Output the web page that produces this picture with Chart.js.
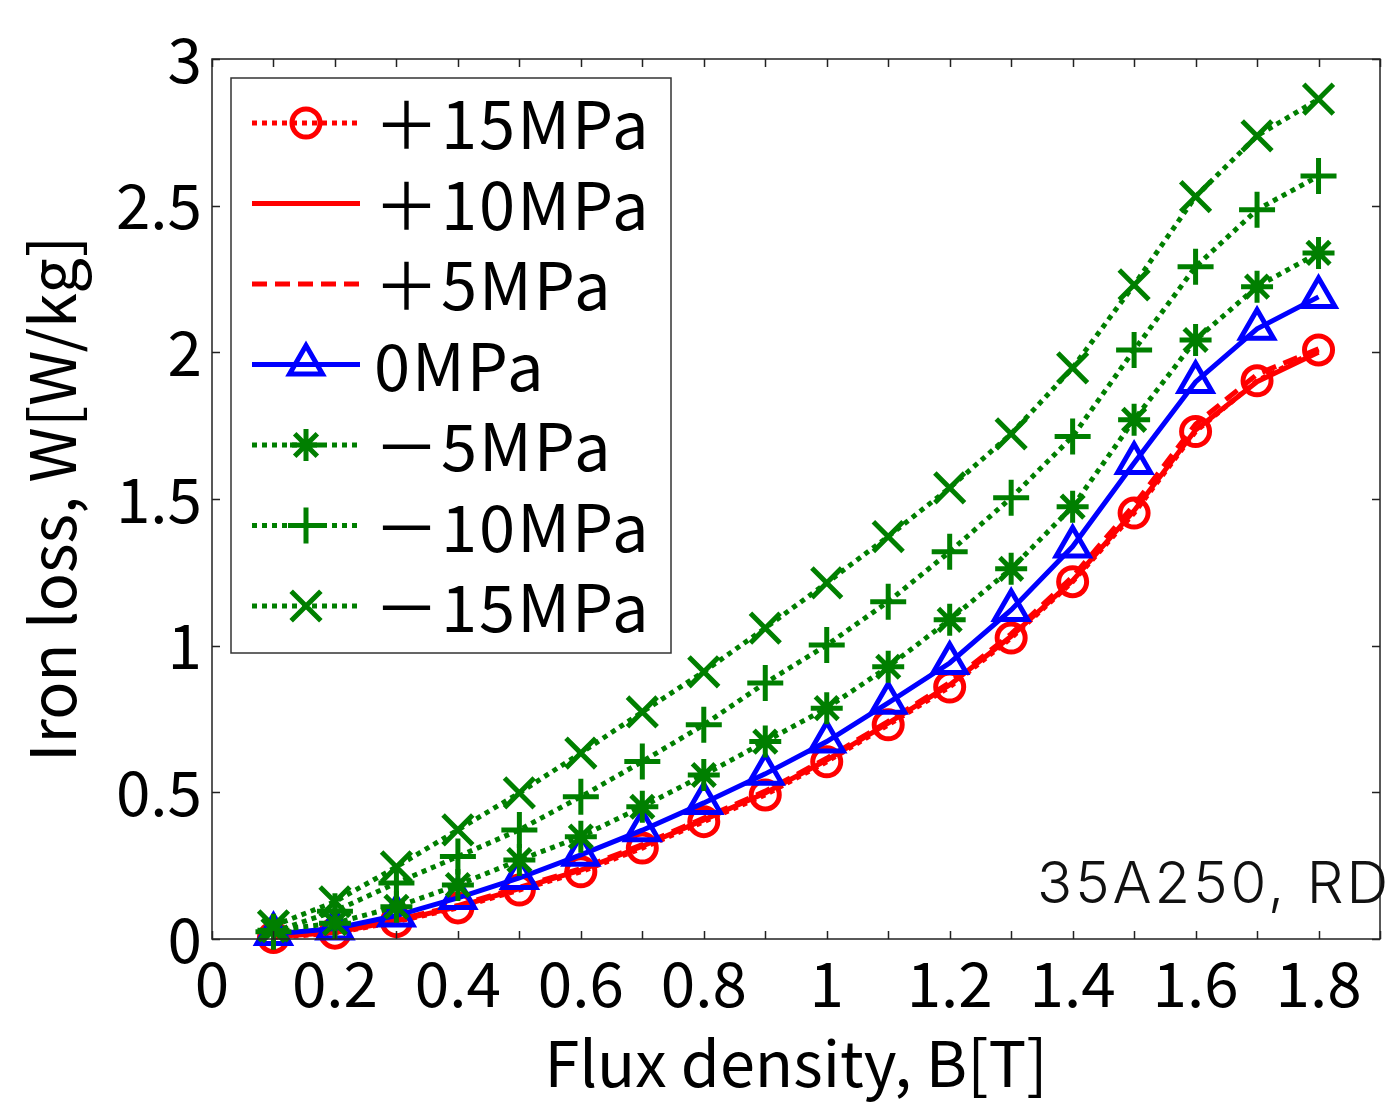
<!DOCTYPE html>
<html>
<head>
<meta charset="utf-8">
<script src="https://cdn.jsdelivr.net/npm/chart.js@4.4.1/dist/chart.umd.min.js"></script>
<style>
  html, body { margin: 0; padding: 0; background: #fff; }
  canvas { display: block; }
</style>
</head>
<body>
<canvas id="loss-chart" width="1388" height="1107"></canvas>
<script>
// Flux density B [T]
const B_FIELD = [0.1, 0.2, 0.3, 0.4, 0.5, 0.6, 0.7, 0.8, 0.9, 1.0, 1.1, 1.2, 1.3, 1.4, 1.5, 1.6, 1.7, 1.8];

// Iron loss W [W/kg] per stress level
const LOSS_P15 = [0.005, 0.02, 0.059, 0.106, 0.167, 0.229, 0.31, 0.40, 0.491, 0.604, 0.73, 0.859, 1.026, 1.218, 1.452, 1.73, 1.903, 2.008];
const LOSS_P10 = [0.008, 0.022, 0.062, 0.11, 0.172, 0.235, 0.316, 0.406, 0.498, 0.61, 0.736, 0.866, 1.032, 1.222, 1.46, 1.735, 1.9, 2.0];
const LOSS_P5  = [0.01, 0.025, 0.066, 0.114, 0.176, 0.24, 0.322, 0.412, 0.504, 0.616, 0.742, 0.874, 1.04, 1.235, 1.48, 1.755, 1.925, 2.012];
const LOSS_0   = [0.017, 0.036, 0.08, 0.14, 0.208, 0.287, 0.371, 0.464, 0.563, 0.673, 0.805, 0.941, 1.122, 1.338, 1.623, 1.899, 2.08, 2.189];
const LOSS_M5  = [0.03, 0.054, 0.11, 0.184, 0.269, 0.349, 0.451, 0.559, 0.673, 0.787, 0.928, 1.088, 1.262, 1.474, 1.77, 2.042, 2.224, 2.339];
const LOSS_M10 = [0.025, 0.095, 0.191, 0.281, 0.372, 0.485, 0.605, 0.73, 0.873, 1.002, 1.15, 1.32, 1.504, 1.713, 2.008, 2.292, 2.486, 2.601];
const LOSS_M15 = [0.045, 0.127, 0.246, 0.372, 0.498, 0.634, 0.774, 0.911, 1.06, 1.214, 1.372, 1.538, 1.722, 1.947, 2.23, 2.531, 2.738, 2.863];

const SERIES_LABELS = ['＋15MPa', '＋10MPa', '＋5MPa', '0MPa', '－5MPa', '－10MPa', '－15MPa'];
const X_TICK_LABELS = ['0', '0.2', '0.4', '0.6', '0.8', '1', '1.2', '1.4', '1.6', '1.8'];
const Y_TICK_LABELS = ['0', '0.5', '1', '1.5', '2', '2.5', '3'];
const NOTE_TEXT = '35A250, RD';

const RED = '#ff0000';
const BLUE = '#0000ff';
const GREEN = '#007f00';
const DOTTED = [5, 5];
const DASHED = [15, 8];
const FONT = '"Noto Sans CJK JP", "Noto Sans", sans-serif';

function series(label, values, color, dash, marker, radius) {
    return {
        label: label,
        data: values.map((v, i) => ({ x: B_FIELD[i], y: v })),
        borderColor: color,
        backgroundColor: 'rgba(0,0,0,0)',
        borderWidth: 5,
        borderDash: dash,
        pointStyle: marker,
        pointRadius: radius,
        pointBorderWidth: 5,
        pointBorderColor: color,
        pointBackgroundColor: 'rgba(0,0,0,0)',
        tension: 0,
        clip: false
    };
}

const datasets = [
    series(SERIES_LABELS[0], LOSS_P15, RED, DOTTED, 'circle', 14),
    series(SERIES_LABELS[1], LOSS_P10, RED, [], false, 0),
    series(SERIES_LABELS[2], LOSS_P5, RED, DASHED, false, 0),
    series(SERIES_LABELS[3], LOSS_0, BLUE, [], 'triangle', 19),
    series(SERIES_LABELS[4], LOSS_M5, GREEN, DOTTED, 'star', 16),
    series(SERIES_LABELS[5], LOSS_M10, GREEN, DOTTED, 'cross', 18),
    series(SERIES_LABELS[6], LOSS_M15, GREEN, DOTTED, 'crossRot', 21)
];
// later series lie on top, as in the original plot
datasets.forEach((ds, i) => { ds.order = datasets.length - i; });

// frame + inward tick marks on all four sides
const frameTicks = {
    id: 'frameTicks',
    afterDraw(chart) {
        const { ctx, chartArea: a, scales } = chart;
        ctx.save();
        ctx.strokeStyle = '#222';
        ctx.lineWidth = 1.5;
        ctx.setLineDash([]);
        ctx.strokeRect(a.left, a.top, a.right - a.left, a.bottom - a.top);
        const len = 8;
        ctx.beginPath();
        scales.x.ticks.forEach(t => {
            const px = Math.round(scales.x.getPixelForValue(t.value)) + 0.5;
            ctx.moveTo(px, a.bottom); ctx.lineTo(px, a.bottom - len);
            ctx.moveTo(px, a.top); ctx.lineTo(px, a.top + len);
        });
        scales.y.ticks.forEach(t => {
            const py = Math.round(scales.y.getPixelForValue(t.value)) + 0.5;
            ctx.moveTo(a.left, py); ctx.lineTo(a.left + len, py);
            ctx.moveTo(a.right, py); ctx.lineTo(a.right - len, py);
        });
        ctx.stroke();
        ctx.restore();
    }
};

// boxed legend in the upper-left of the plot
const boxLegend = {
    id: 'boxLegend',
    afterDraw(chart) {
        const { ctx, chartArea: a } = chart;
        const left = a.left + 19, top = a.top + 19, w = 440, h = 575;
        ctx.save();
        ctx.fillStyle = '#fff';
        ctx.fillRect(left, top, w, h);
        ctx.strokeStyle = '#333';
        ctx.lineWidth = 1.5;
        ctx.strokeRect(left, top, w, h);
        chart.data.datasets.forEach((ds, i) => {
            const y = top + 45 + i * 80.5;
            ctx.strokeStyle = ds.borderColor;
            ctx.lineWidth = ds.borderWidth;
            ctx.setLineDash(ds.borderDash || []);
            ctx.beginPath();
            ctx.moveTo(left + 21, y);
            ctx.lineTo(left + 129, y);
            ctx.stroke();
            ctx.setLineDash([]);
            if (ds.pointStyle) {
                ctx.fillStyle = 'rgba(0,0,0,0)';
                Chart.helpers.drawPoint(ctx, {
                    pointStyle: ds.pointStyle,
                    radius: ds.pointRadius,
                    borderWidth: ds.pointBorderWidth,
                    rotation: 0
                }, left + 75, y);
            }
            ctx.fillStyle = '#000';
            ctx.font = '65px ' + FONT;
            ctx.letterSpacing = '2px';
            ctx.textAlign = 'left';
            ctx.textBaseline = 'alphabetic';
            ctx.fillText(ds.label, left + 143, y + 26);
        });
        ctx.restore();
    }
};

// sample note in the lower-right corner
const noteText = {
    id: 'noteText',
    afterDraw(chart) {
        const { ctx, chartArea: a } = chart;
        ctx.save();
        ctx.fillStyle = '#111';
        ctx.font = '300 58px Inter, "Liberation Sans", sans-serif';
        ctx.letterSpacing = '3px';
        ctx.textAlign = 'left';
        ctx.textBaseline = 'alphabetic';
        ctx.fillText(NOTE_TEXT, a.right - 343, a.bottom - 36);
        ctx.restore();
    }
};

function tickLabel(list, value) {
    const hit = list.find(s => Math.abs(Number(s) - value) < 1e-6);
    return hit === undefined ? '' : hit;
}

new Chart(document.getElementById('loss-chart'), {
    type: 'line',
    data: { datasets: datasets },
    options: {
        responsive: false,
        animation: false,
        devicePixelRatio: 1,
        layout: {
            autoPadding: false,
            padding: { top: 59, right: 8, left: 0, bottom: 0 }
        },
        plugins: {
            legend: { display: false },
            tooltip: { enabled: false }
        },
        scales: {
            x: {
                type: 'linear',
                min: 0,
                max: 1.9,
                afterFit(scale) {
                    scale.height = 168;
                    scale.paddingLeft = 0;
                    scale.paddingRight = 0;
                },
                afterBuildTicks(scale) {
                    const ticks = [];
                    for (let i = 0; i <= 19; i++) ticks.push({ value: i / 10 });
                    scale.ticks = ticks;
                },
                grid: { display: false, drawTicks: false },
                border: { display: false },
                ticks: {
                    autoSkip: false,
                    maxRotation: 0,
                    padding: 7,
                    color: '#000',
                    font: { family: FONT, size: 62 },
                    callback: (value) => tickLabel(X_TICK_LABELS, value)
                },
                title: {
                    display: true,
                    text: 'Flux density, B[T]',
                    color: '#000',
                    font: { family: FONT, size: 63 },
                    padding: { top: 0, bottom: 6 }
                }
            },
            y: {
                type: 'linear',
                min: 0,
                max: 3,
                afterFit(scale) {
                    scale.width = 212;
                    scale.paddingTop = 0;
                    scale.paddingBottom = 0;
                },
                afterBuildTicks(scale) {
                    scale.ticks = Y_TICK_LABELS.map(s => ({ value: Number(s) }));
                },
                grid: { display: false, drawTicks: false },
                border: { display: false },
                ticks: {
                    padding: 10,
                    color: '#000',
                    font: { family: FONT, size: 62 },
                    callback: (value) => tickLabel(Y_TICK_LABELS, value)
                },
                title: {
                    display: true,
                    text: 'Iron loss, W[W/kg]',
                    color: '#000',
                    font: { family: FONT, size: 63 },
                    padding: { top: 14, bottom: 0 }
                }
            }
        }
    },
    plugins: [frameTicks, boxLegend, noteText]
});
</script>
</body>
</html>
